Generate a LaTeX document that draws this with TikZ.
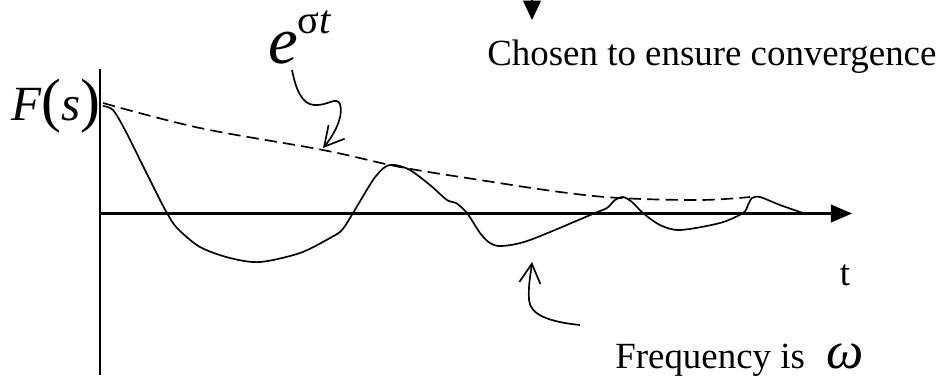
\documentclass[tikz,border=0pt]{standalone}
\usepackage{fontspec}
\setmainfont{Liberation Serif}
\usetikzlibrary{arrows.meta}

\begin{document}
\begin{tikzpicture}[
  x=0.02cm, y=-0.02cm,
  font=\fontsize{21}{25}\selectfont,
  axis/.style={line width=1.2pt},
  sig/.style={line width=0.95pt},
  env/.style={line width=0.95pt, dash pattern=on 7pt off 3.5pt},
  curly/.style={line width=0.95pt, -{Straight Barb[length=11pt, width=12pt, line width=0.95pt]}},
  tri/.style={axis, -{Triangle[length=12pt, width=10pt]}}
]
\useasboundingbox (0,0) rectangle (945,380);

% =========================
% Axes
% =========================
\coordinate (origin) at (100,213.5);
\coordinate (ytop) at (100,69);
\coordinate (ybot) at (100,375);
\coordinate (xend) at (852,213.5);

\draw[axis] (ytop) -- (ybot);
\draw[tri] (origin) -- (xend);

% =========================
% Labels
% =========================
\node[anchor=base east, inner sep=0pt] (flabel) at (101,120)
  {\fontsize{28}{30}\selectfont\textit{F}{\fontsize{34}{34}\selectfont(}\textit{s}{\fontsize{34}{34}\selectfont)}};
\node[anchor=base west, inner sep=0pt] (eexp) at (268,63)
  {\fontsize{38}{40}\selectfont\textit{e}\raisebox{17pt}{\fontsize{23}{25}\selectfont σ\textit{t}}};
\node[anchor=base west, inner sep=0pt] (chosen) at (487,65) {Chosen to ensure convergence};
\node[anchor=base, inner sep=0pt] (tlabel) at (845,285) {t};
\node[anchor=base west, inner sep=0pt] (freq) at (615,368)
  {Frequency is\hspace{12pt}{\fontsize{30}{30}\selectfont\textit{ω}}};

% top arrow into the text
\coordinate (topin) at (532,-10);
\coordinate (toptip) at (532,20);
\draw[tri, -{Triangle[length=11pt, width=10pt]}] (topin) -- (toptip);

% =========================
% Envelope and signal
% =========================
\draw[env] plot[smooth, tension=0.6] coordinates {
  (103,103) (200,128) (323,150) (400,167) (480,180) (560,192)
  (620,198) (700,200) (750,197)};

\draw[sig] plot[smooth, tension=0.5] coordinates {
  (103,106) (113,110) (125,130) (145,170) (160,200) (167,213)
  (177,228) (200,247) (230,258) (260,262) (300,253) (330,238)
  (342,230) (353,213) (373,180) (385,167) (395,165) (410,170)
  (430,185) (447,200) (456,203) (467,213) (480,233) (490,243)
  (502,246) (530,240) (595,213) (607,208) (615,200) (623,197)
  (632,202) (643,213) (660,225) (680,230) (720,223) (743,213)
  (748,205) (752,198) (760,197) (780,205) (803,213)};

% =========================
% Curly pointers
% =========================
\coordinate (envtip) at (323,148);
\draw[curly] (292,70) .. controls (296,90) and (302,104) .. (314,105)
  .. controls (328,106) and (336,96) .. (340,104)
  .. controls (344,116) and (334,135) .. (envtip);

\coordinate (freqstart) at (580,325);
\coordinate (sigtip) at (532,262);
\draw[curly] (freqstart) .. controls (550,322) and (530,315) .. (529,300)
  .. controls (528,285) and (531,272) .. (sigtip);

\end{tikzpicture}
\end{document}
